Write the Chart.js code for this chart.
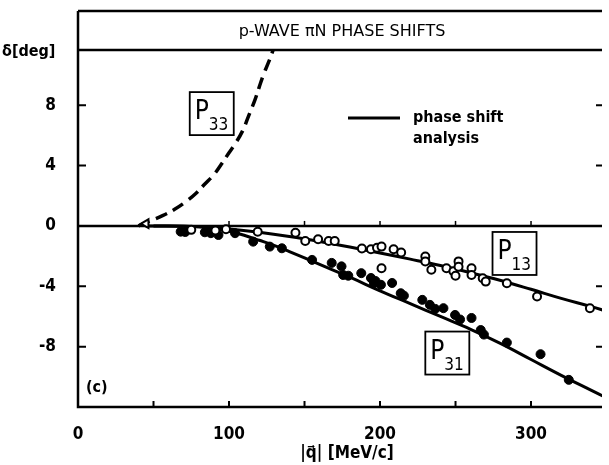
<!DOCTYPE html>
<html>
<head>
<meta charset="utf-8">
<script src="https://cdn.jsdelivr.net/npm/chart.js@4.4.0/dist/chart.umd.min.js"></script>
<style>
  html, body { margin: 0; padding: 0; background: #fff; }
  canvas { display: block; }
</style>
</head>
<body>
<canvas id="phaseChart" width="609" height="465"></canvas>
<script>
// |q| in MeV/c, delta in degrees

// P33 (dashed)
var p33CurveQ     = [40, 47, 56, 64, 71, 78, 84, 90, 95, 100, 104, 109, 113, 117, 120, 123, 126, 129, 132];
var p33CurveDelta = [0, 0.3, 0.68, 1.1, 1.57, 2.15, 2.78, 3.4, 4.1, 4.85, 5.43, 6.3, 7.3, 8.3, 9.2, 10.07, 10.8, 11.6, 12.5];

// phase shift analysis curves
var p13CurveQ     = [45, 80, 100, 120, 140, 160, 180, 200, 220, 240, 260, 280, 300, 320, 340, 350];
var p13CurveDelta = [0, -0.05, -0.2, -0.42, -0.7, -1.03, -1.4, -1.8, -2.2, -2.62, -3.1, -3.62, -4.2, -4.8, -5.35, -5.65];

var p31CurveQ     = [50, 80, 90, 100, 110, 120, 132, 140, 160, 180, 200, 220, 240, 260, 280, 300, 320, 340, 350];
var p31CurveDelta = [0, -0.05, -0.15, -0.35, -0.62, -0.95, -1.37, -1.7, -2.55, -3.4, -4.3, -5.15, -6.0, -6.85, -7.8, -8.85, -9.9, -10.9, -11.4];

// measured points, P13 (open circles)
var p13PointsQ     = [75, 91, 98, 119, 144, 150.5, 159, 166, 170, 188, 194, 198, 201, 209, 214, 201,
                      230, 230, 234, 244, 248.6, 250, 252, 252, 260.6, 260.6, 268, 270, 284, 304, 339];
var p13PointsDelta = [-0.26, -0.3, -0.22, -0.38, -0.45, -1.0, -0.88, -1.0, -1.0, -1.5, -1.55, -1.45, -1.37, -1.55, -1.76, -2.8,
                      -2.03, -2.35, -2.9, -2.8, -3.0, -3.3, -2.35, -2.7, -2.8, -3.25, -3.47, -3.69, -3.8, -4.68, -5.45];

// measured points, P31 (filled circles)
var p31PointsQ     = [68, 71, 84, 88, 93, 104, 116, 127, 135, 155, 168, 174.5, 175.6, 179, 187.6, 194, 197, 196,
                      200.6, 208, 213.7, 215.8, 228, 233, 236.6, 242, 249.7, 253, 260.6, 266.7, 268.8, 284, 306.3, 325];
var p31PointsDelta = [-0.38, -0.4, -0.42, -0.48, -0.6, -0.48, -1.04, -1.37, -1.48, -2.25, -2.45, -2.68, -3.25, -3.3, -3.13, -3.45, -3.65, -3.8,
                      -3.9, -3.78, -4.46, -4.62, -4.9, -5.23, -5.5, -5.45, -5.9, -6.2, -6.1, -6.9, -7.2, -7.73, -8.5, -10.2];

// P33 near threshold (open triangle)
var p33PointsQ     = [45];
var p33PointsDelta = [0.15];

var xTickValues = [0, 100, 200, 300];
var xMinorTicks = [50, 100, 150, 200, 250, 300];
var yTickValues = [8, 4, 0, -4, -8];

var FONT = "'DejaVu Sans Condensed', 'DejaVu Sans', sans-serif";

function toPoints(qs, ds) {
    return qs.map(function (q, i) { return { x: q, y: ds[i] }; });
}

// frame, title band, ticks and labels drawn over the chart area
var phaseFrame = {
    id: 'phaseFrame',
    beforeDatasetsDraw: function (chart) {
        var ctx = chart.ctx, area = chart.chartArea, ys = chart.scales.y;
        var y0 = ys.getPixelForValue(0);
        ctx.save();
        ctx.strokeStyle = '#000';
        ctx.lineWidth = 2.5;
        ctx.beginPath();
        ctx.moveTo(area.left, y0);
        ctx.lineTo(area.right, y0);
        ctx.stroke();
        // small ticks standing on the zero line
        ctx.lineWidth = 1.5;
        xMinorTicks.forEach(function (v) {
            if (v < 100) return;
            var x = chart.scales.x.getPixelForValue(v);
            ctx.beginPath();
            ctx.moveTo(x, y0 - 5);
            ctx.lineTo(x, y0 + 1);
            ctx.stroke();
        });
        ctx.restore();
    },
    afterDraw: function (chart) {
        var ctx = chart.ctx, area = chart.chartArea;
        var xs = chart.scales.x, ys = chart.scales.y;
        var bandTop = 11;
        ctx.save();
        ctx.strokeStyle = '#000';
        ctx.fillStyle = '#000';
        ctx.lineCap = 'butt';

        // outer frame
        ctx.lineWidth = 2.5;
        ctx.beginPath();
        ctx.moveTo(area.left, bandTop);
        ctx.lineTo(area.right, bandTop);
        ctx.moveTo(area.left, area.top);
        ctx.lineTo(area.right, area.top);
        ctx.moveTo(area.left, bandTop);
        ctx.lineTo(area.left, area.bottom);
        ctx.lineTo(area.right, area.bottom);
        ctx.stroke();

        // ticks pointing inward
        ctx.lineWidth = 2;
        xMinorTicks.forEach(function (v) {
            var x = xs.getPixelForValue(v);
            ctx.beginPath();
            ctx.moveTo(x, area.bottom);
            ctx.lineTo(x, area.bottom - 6);
            ctx.stroke();
        });
        yTickValues.forEach(function (v) {
            if (v === 0) return;
            var y = ys.getPixelForValue(v);
            ctx.beginPath();
            ctx.moveTo(area.left, y);
            ctx.lineTo(area.left + 8, y);
            ctx.moveTo(area.right, y);
            ctx.lineTo(area.right - 6, y);
            ctx.stroke();
        });

        // title band
        ctx.font = "16px 'DejaVu Sans', sans-serif";
        ctx.textAlign = 'center';
        ctx.textBaseline = 'middle';
        ctx.fillText('p-WAVE \u03c0N PHASE SHIFTS', (area.left + area.right) / 2 + 2, (bandTop + area.top) / 2 + 1);

        // y axis name
        ctx.font = 'bold 16px ' + FONT;
        ctx.textAlign = 'left';
        ctx.fillText('\u03b4[deg]', 2, area.top + 2);

        // x axis name
        ctx.font = 'bold 17px ' + FONT;
        ctx.textAlign = 'center';
        ctx.fillText('|q\u20d7| [MeV/c]', 347, 454);

        // panel letter
        ctx.font = 'bold 16px ' + FONT;
        ctx.textAlign = 'left';
        ctx.fillText('(c)', area.left + 8, area.bottom - 19);

        // legend
        ctx.lineWidth = 3;
        ctx.beginPath();
        ctx.moveTo(348, 118);
        ctx.lineTo(400, 118);
        ctx.stroke();
        ctx.font = 'bold 16px ' + FONT;
        ctx.fillText('phase shift', 413, 118);
        ctx.fillText('analysis', 413, 139);

        // boxed wave labels
        function waveLabel(q, d, sub) {
            var x = xs.getPixelForValue(q), y = ys.getPixelForValue(d);
            ctx.lineWidth = 1.8;
            ctx.strokeRect(x, y, 44, 43);
            ctx.textAlign = 'left';
            ctx.textBaseline = 'alphabetic';
            ctx.font = '26px ' + FONT;
            ctx.fillText('P', x + 5, y + 27);
            ctx.font = '17px ' + FONT;
            ctx.fillText(sub, x + 19, y + 38);
        }
        waveLabel(74, 8.87, '33');
        waveLabel(274.5, -0.4, '13');
        waveLabel(230, -7.0, '31');

        ctx.restore();
    }
};

var chart = new Chart(document.getElementById('phaseChart'), {
    type: 'scatter',
    data: {
        datasets: [{
            label: 'P13 data',
            data: toPoints(p13PointsQ, p13PointsDelta),
            pointStyle: 'circle',
            pointRadius: 4,
            borderWidth: 2,
            borderColor: '#000',
            backgroundColor: '#fff'
        }, {
            label: 'P31 data',
            data: toPoints(p31PointsQ, p31PointsDelta),
            pointStyle: 'circle',
            pointRadius: 4.5,
            borderWidth: 1,
            borderColor: '#000',
            backgroundColor: '#000'
        }, {
            label: 'P33 data',
            data: toPoints(p33PointsQ, p33PointsDelta),
            pointStyle: 'triangle',
            rotation: -90,
            pointRadius: 5,
            borderWidth: 2,
            borderColor: '#000',
            backgroundColor: '#fff'
        }, {
            label: 'P33',
            type: 'line',
            data: toPoints(p33CurveQ, p33CurveDelta),
            borderColor: '#000',
            borderWidth: 3.5,
            borderDash: [12, 7],
            pointRadius: 0,
            tension: 0.4,
            fill: false
        }, {
            label: 'P13',
            type: 'line',
            data: toPoints(p13CurveQ, p13CurveDelta),
            borderColor: '#000',
            borderWidth: 3,
            pointRadius: 0,
            tension: 0.4,
            fill: false
        }, {
            label: 'P31',
            type: 'line',
            data: toPoints(p31CurveQ, p31CurveDelta),
            borderColor: '#000',
            borderWidth: 3,
            pointRadius: 0,
            tension: 0.4,
            fill: false
        }]
    },
    options: {
        responsive: false,
        animation: false,
        devicePixelRatio: 1,
        layout: { padding: { top: 50, right: 0, bottom: 0, left: 0 } },
        plugins: {
            legend: { display: false },
            tooltip: { enabled: false }
        },
        scales: {
            x: {
                type: 'linear',
                min: 0,
                max: 347,
                grid: { display: false },
                border: { display: false },
                afterFit: function (scale) { scale.height = 58; },
                afterBuildTicks: function (scale) {
                    scale.ticks = xTickValues.map(function (v) { return { value: v }; });
                },
                ticks: {
                    color: '#000',
                    padding: 9,
                    maxRotation: 0,
                    font: { family: FONT, size: 17, weight: 'bold' }
                }
            },
            y: {
                type: 'linear',
                min: -12,
                max: 11.66,
                grid: { display: false },
                border: { display: false },
                afterFit: function (scale) { scale.width = 78; },
                afterBuildTicks: function (scale) {
                    scale.ticks = yTickValues.map(function (v) { return { value: v }; });
                },
                ticks: {
                    color: '#000',
                    padding: 14,
                    font: { family: FONT, size: 17, weight: 'bold' }
                }
            }
        }
    },
    plugins: [phaseFrame]
});
</script>
</body>
</html>
